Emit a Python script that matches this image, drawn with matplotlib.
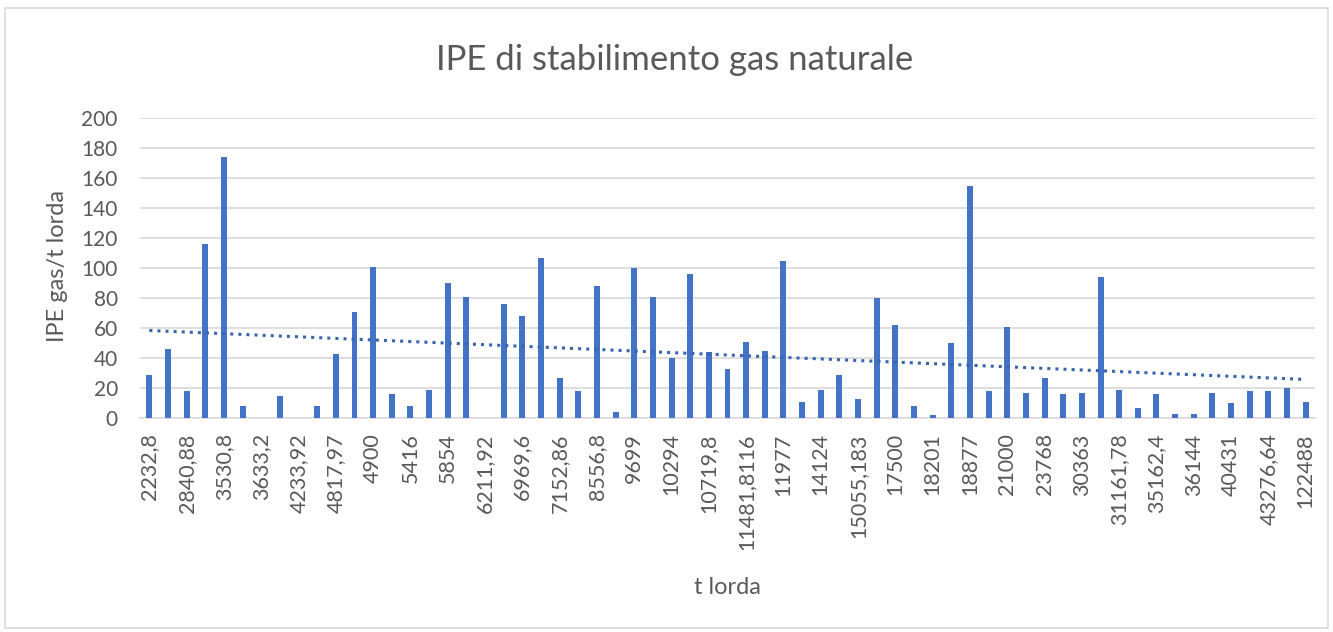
import matplotlib.pyplot as plt
from matplotlib.patches import Rectangle
import numpy as np

plt.rcParams['font.family'] = ['Lato', 'DejaVu Sans']

# etichette visibili (una categoria ogni due)
etichette = ['2232,8', '2840,88', '3530,8', '3633,2', '4233,92', '4817,97', '4900',
             '5416', '5854', '6211,92', '6969,6', '7152,86', '8556,8', '9699',
             '10294', '10719,8', '11481,8116', '11977', '14124', '15055,183',
             '17500', '18201', '18877', '21000', '23768', '30363', '31161,78',
             '35162,4', '36144', '40431', '43276,64', '122488']

# IPE gas / t lorda per ogni stabilimento
ipe = [29, 46, 18, 116, 174, 8, 0, 15, 0, 8,
       43, 71, 101, 16, 8, 19, 90, 81, 0, 76,
       68, 107, 27, 18, 88, 4, 100, 81, 40, 96,
       44, 33, 51, 45, 105, 11, 19, 29, 13, 80,
       62, 8, 2, 50, 155, 18, 61, 17, 27, 16,
       17, 94, 19, 7, 16, 3, 3, 17, 10, 18,
       18, 20, 11]

x = np.arange(len(ipe))
blu = '#4472C4'
grigio = '#595959'

fig = plt.figure(figsize=(13.33, 6.32), dpi=100)
ax = fig.add_axes([140/1333, 1-418/632, 1175/1333, 300/632])

ax.bar(x, ipe, width=0.32, color=blu, zorder=3)

# linea di tendenza lineare
coef = np.polyfit(x, ipe, 1)
ax.plot(x, np.polyval(coef, x), linestyle=':', color='#3A64B0', linewidth=2.2, zorder=4)

ax.set_xlim(-0.5, len(ipe) - 0.5)
ax.set_ylim(0, 200)
ax.set_yticks(range(0, 201, 20))
ax.yaxis.grid(True, color='#D9D9D9', linewidth=1.2, zorder=0)
ax.set_xticks(x[::2])
ax.set_xticklabels(etichette, rotation=90, fontsize=15.5, color=grigio)
ax.tick_params(axis='y', labelsize=15, labelcolor=grigio, length=0, pad=16)
ax.tick_params(axis='x', length=0, pad=11)
for s in ['top', 'right', 'left']:
    ax.spines[s].set_visible(False)
ax.spines['bottom'].set_color('#D9D9D9')
ax.spines['bottom'].set_linewidth(1.2)

fig.text(675/1333, 1-60/632, 'IPE di stabilimento gas naturale', fontsize=25,
         color=grigio, ha='center', va='center')
fig.text(57/1333, 1-266/632, 'IPE gas/t lorda', fontsize=17, color=grigio,
         rotation=90, ha='center', va='center')
fig.text(727/1333, 1-587/632, 't lorda', fontsize=17, color=grigio,
         ha='center', va='center')

# cornice del grafico
fig.patches.append(Rectangle((5/1333, 4/632), 1323/1333, 620/632, transform=fig.transFigure,
                             fill=False, edgecolor='#D9D9D9', linewidth=1.2))

fig.savefig('out.png', dpi=100)
